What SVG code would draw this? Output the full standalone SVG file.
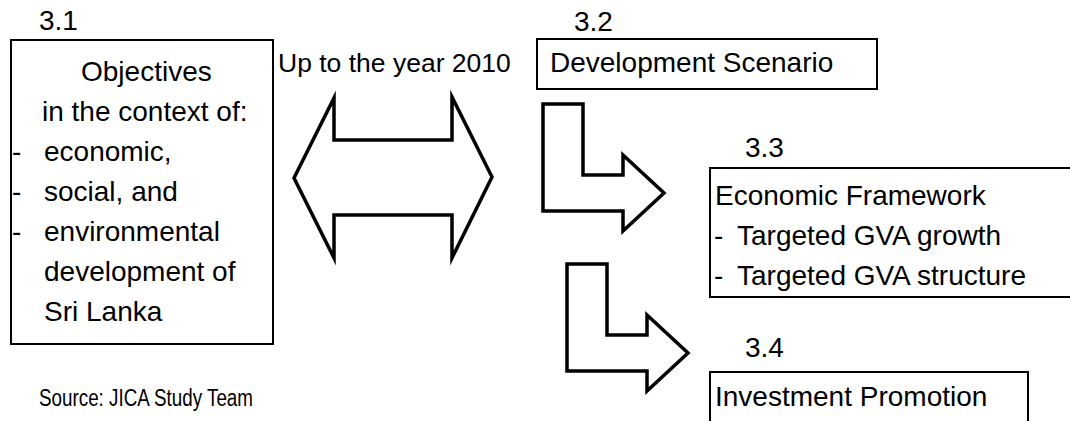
<svg xmlns="http://www.w3.org/2000/svg" width="1070" height="421" viewBox="0 0 1070 421">
<style>
text{font-family:"Liberation Sans",Arial,sans-serif;font-size:28px;fill:#000}
.box{fill:#fff;stroke:#000;stroke-width:2}
.arrow{fill:#fff;stroke:#000;stroke-width:3.5;stroke-linejoin:miter;stroke-miterlimit:10}
.src{font-family:"Liberation Sans Narrow","Liberation Sans",sans-serif;font-size:23px}
</style>
<rect width="1070" height="421" fill="#fff"/>
<g id="node-3-1">
<text x="39" y="30">3.1</text>
<rect class="box" x="11" y="40" width="262" height="304"/>
<text x="81" y="81">Objectives</text>
<text x="42" y="121">in the context of:</text>
<text x="12" y="161">-</text><text x="44" y="161">economic,</text>
<text x="12" y="201">-</text><text x="44" y="201">social, and</text>
<text x="12" y="241">-</text><text x="44" y="241">environmental</text>
<text x="44" y="281">development of</text>
<text x="44" y="321">Sri Lanka</text>
</g>
<g id="label-period">
<text x="278" y="72" style="font-size:26.5px">Up to the year 2010</text>
</g>
<g id="node-3-2">
<text x="574" y="31">3.2</text>
<rect class="box" x="537" y="39" width="340" height="50"/>
<text x="550" y="72">Development Scenario</text>
</g>
<g id="node-3-3">
<text x="745" y="157">3.3</text>
<rect class="box" x="710" y="168" width="370" height="129"/>
<text x="715" y="205">Economic Framework</text>
<text x="714" y="245">-</text><text x="737" y="245">Targeted GVA growth</text>
<text x="714" y="285">-</text><text x="737" y="285">Targeted GVA structure</text>
</g>
<g id="node-3-4">
<text x="745" y="357">3.4</text>
<rect class="box" x="710" y="372" width="318" height="60"/>
<text x="715" y="406">Investment Promotion</text>
</g>
<g id="connectors">
<polygon class="arrow" points="294,178 334,98 334,140 452,140 452,97 492,177 452,258 452,215 334,215 334,258"/>
<polygon class="arrow" points="543,104 583,104 583,175 623,175 623,155 664,193 623,231 623,211 543,211"/>
<polygon class="arrow" points="567,264 607,264 607,335 647,335 647,315 688,353 647,391 647,371 567,371"/>
</g>
<text class="src" x="39" y="406" textLength="214" lengthAdjust="spacingAndGlyphs">Source: JICA Study Team</text>
</svg>
